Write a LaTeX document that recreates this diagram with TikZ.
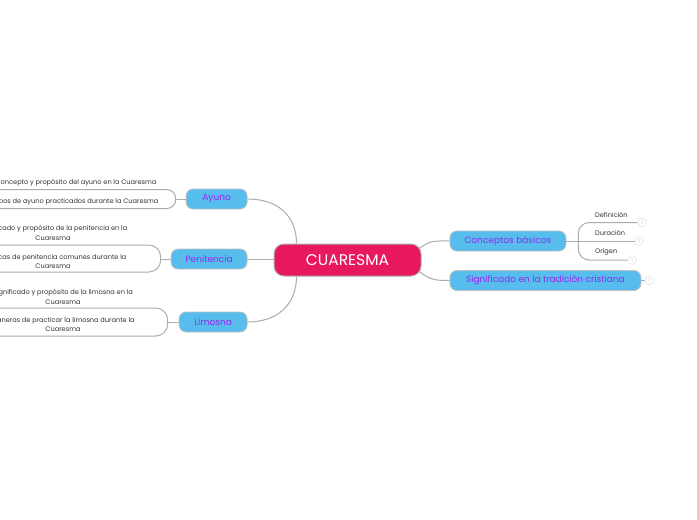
\documentclass[tikz,border=0pt]{standalone}
\usepackage{fontspec}
\setmainfont{Poppins}
\usepackage{xcolor}
\usetikzlibrary{positioning, backgrounds}

\definecolor{rootred}{RGB}{232,24,94}
\definecolor{topicblue}{RGB}{86,189,236}
\definecolor{topicpurple}{RGB}{150,40,240}
\definecolor{linkgray}{RGB}{172,172,172}

\begin{document}
\begin{tikzpicture}[
    x=1pt, y=-1pt,
    root/.style={
        draw=gray!60,
        line width=1pt,
        rounded corners=10pt,
        fill=rootred,
        text=white,
        font=\fontsize{15.5}{17}\selectfont,
        minimum width=147pt,
        minimum height=32pt,
        inner sep=0pt
    },
    topic/.style={
        draw=gray!50,
        line width=0.8pt,
        rounded corners=7pt,
        fill=topicblue,
        text=topicpurple,
        font=\fontsize{9}{10}\selectfont,
        minimum height=20pt,
        inner sep=0pt
    },
    leaf/.style={font=\fontsize{6.6}{9.5}\selectfont, text=black!80, align=center, inner sep=0pt},
    count/.style={circle, draw=gray!30, minimum size=8.5pt, inner sep=0pt, font=\fontsize{4.5}{4.5}\selectfont, text=gray!50},
    link/.style={draw=linkgray, line width=1pt}
]
\useasboundingbox (0,0) rectangle (697,520);
\clip (0,0) rectangle (697,520);

\node[root] (cuaresma) at (347.5,260) {CUARESMA};

% left side
\node[topic, minimum width=76pt, left=26pt of cuaresma, yshift=1pt] (penitencia) {Penitencia};
\node[topic, minimum width=61pt, anchor=east] (ayuno) at ([yshift=60pt]penitencia.east) {Ayuno};
\node[topic, minimum width=68pt, anchor=east] (limosna) at ([yshift=-63pt]penitencia.east) {Limosna};

% right side
\node[topic, minimum width=116pt, anchor=west] (conceptos) at ([xshift=28pt,yshift=19pt]cuaresma.east) {Conceptos básicos};
\node[topic, minimum width=191pt, anchor=west] (significado) at ([xshift=28pt,yshift=-20.5pt]cuaresma.east) {Significado en la tradición cristiana};

\node[count] (n1) at (642,222.5) {1};
\node[count] (n2) at (639,241) {1};
\node[count] (n3) at (632,260) {1};
\node[count] (n4) at (649,280.5) {1};
\node[leaf, anchor=west] (definicion) at (595,214.5) {Definición};
\node[leaf, anchor=west] (duracion) at (595,233) {Duración};
\node[leaf, anchor=west] (origen) at (595,252) {Origen};

% leaf texts on the left
\node[leaf] (ayuno1) at (76,182.5) {Concepto y propósito del ayuno en la Cuaresma};
\node[leaf] (ayuno2) at (76,201.5) {Tipos de ayuno practicados durante la Cuaresma};
\node[leaf] (pen1) at (53,233) {Significado y propósito de la penitencia en la\\Cuaresma};
\node[leaf] (pen2) at (53,261.5) {Prácticas de penitencia comunes durante la\\Cuaresma};
\node[leaf] (lim1) at (63,297) {Significado y propósito de la limosna en la\\Cuaresma};
\node[leaf] (lim2) at (63,324.5) {Maneras de practicar la limosna durante la\\Cuaresma};

\coordinate (aj) at ([xshift=-10pt]ayuno.west);
\coordinate (pj) at ([xshift=-10pt]penitencia.west);
\coordinate (lj) at ([xshift=-11pt]limosna.west);
\coordinate (cj) at ([xshift=12pt]conceptos.east);
\coordinate (a1) at (-80,189.5);
\coordinate (a2) at (-80,208.5);
\coordinate (p1) at (-80,245);
\coordinate (p2) at (-80,272);
\coordinate (l1) at (-80,308);
\coordinate (l2) at (-80,336);

\begin{scope}[on background layer]
\fill[white] (0,0) rectangle (697,520);
\draw[link] (ayuno.east) .. controls +(30,0) and +(0,-28) .. ([xshift=-51pt]cuaresma.north);
\draw[link] (penitencia.east) -- (penitencia.east -| cuaresma.west);
\draw[link] (limosna.east) .. controls +(30,0) and +(0,28) .. ([xshift=-51pt]cuaresma.south);
\draw[link] ([xshift=-3pt,yshift=11pt]cuaresma.east) .. controls +(12,-9) and +(-15,0) .. (conceptos.west);
\draw[link] ([xshift=-3pt,yshift=-11pt]cuaresma.east) .. controls +(12,9) and +(-15,0) .. (significado.west);

\draw[link] (ayuno.west) -- (aj);
\draw[link, rounded corners=9pt] (aj) |- (a1);
\draw[link, rounded corners=9pt] (aj) |- (a2);
\draw[link] (penitencia.west) -- (pj);
\draw[link, rounded corners=12pt] (pj) |- (p1);
\draw[link, rounded corners=12pt] (pj) |- (p2);
\draw[link] (limosna.west) -- (lj);
\draw[link, rounded corners=12pt] (lj) |- (l1);
\draw[link, rounded corners=12pt] (lj) |- (l2);

\draw[link] (conceptos.east) -- (n2.west);
\draw[link, rounded corners=11pt] (cj) |- (n1.west);
\draw[link, rounded corners=11pt] (cj) |- (n3.west);
\draw[link] (significado.east) -- (n4.west);
\end{scope}
\end{tikzpicture}
\end{document}
